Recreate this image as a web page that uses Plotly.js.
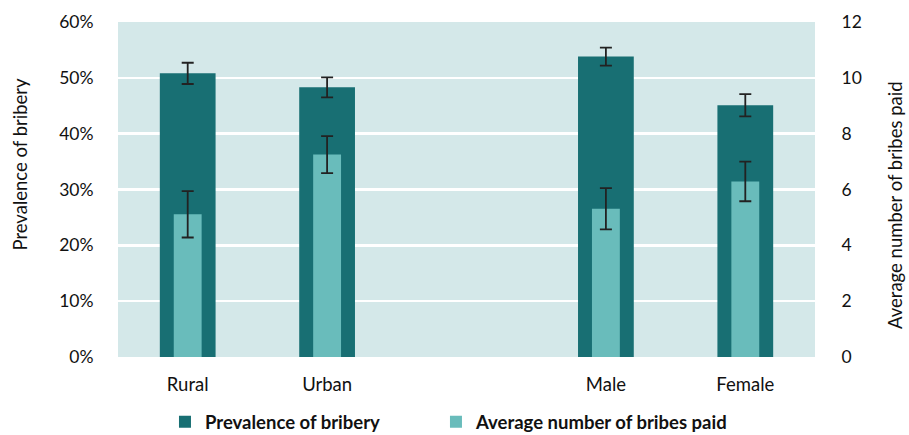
<!DOCTYPE html>
<html>
<head>
<meta charset="utf-8">
<script src="https://cdn.plot.ly/plotly-3.0.1.min.js"></script>
<style>html,body{margin:0;padding:0;background:#fff}#chart{width:909px;height:435px}</style>
</head>
<body>
<div id="chart"></div>
<script>
const categories = ["Rural", "Urban", " ", "Male", "Female"];
const prevalence = [50.8, 48.3, null, 53.8, 45.1];
const prevalenceErr = [1.9, 1.8, null, 1.6, 2.0];
const avgBribes = [5.11, 7.25, null, 5.31, 6.29];
const avgBribesErr = [0.83, 0.66, null, 0.74, 0.71];
const leftTicks = [0, 10, 20, 30, 40, 50, 60];
const rightTicks = [0, 2, 4, 6, 8, 10, 12];
const leftTitle = "Prevalence of bribery";
const rightTitle = "Average number of bribes paid";

const FONT = "Lato, 'Open Sans', sans-serif";

const traces = [
  {
    type: "bar", name: "Prevalence of bribery",
    x: categories, y: prevalence, yaxis: "y", width: 0.4, legend: "legend",
    marker: {color: "#186f73"},
    error_y: {type: "data", array: prevalenceErr, visible: true, color: "#222", thickness: 1.8, width: 6},
    hoverinfo: "skip"
  },
  {
    type: "bar", name: "Average number of bribes paid",
    x: categories, y: avgBribes, yaxis: "y2", width: 0.2, legend: "legend2",
    marker: {color: "#69bcbb"},
    error_y: {type: "data", array: avgBribesErr, visible: true, color: "#222", thickness: 1.8, width: 6},
    hoverinfo: "skip"
  }
];

const legendFont = {family: FONT, size: 18.5, color: "#111", weight: "bold"};

const layout = {
  width: 909, height: 435,
  margin: {l: 118, r: 94, t: 22, b: 78, autoexpand: false},
  paper_bgcolor: "#ffffff",
  plot_bgcolor: "#d4e8e9",
  font: {family: FONT, size: 17, color: "#111"},
  barmode: "overlay",
  showlegend: true,
  legend: {
    orientation: "h", x: 0.0674, xanchor: "left", y: -0.195, yanchor: "middle",
    font: legendFont
  },
  legend2: {
    orientation: "h", x: 0.4562, xanchor: "left", y: -0.195, yanchor: "middle",
    font: legendFont
  },
  xaxis: {
    type: "category", categoryorder: "array", categoryarray: categories,
    showgrid: false, zeroline: false, showline: false,
    ticks: "outside", ticklen: 11, tickcolor: "rgba(0,0,0,0)",
    tickfont: {family: FONT, size: 18.5, color: "#111"}
  },
  yaxis: {
    range: [0, 60], tickvals: leftTicks, ticktext: leftTicks.map(v => v + "%"),
    showgrid: true, gridcolor: "#ffffff", gridwidth: 2.5, zeroline: false, showline: false,
    ticks: "outside", ticklen: 20, tickcolor: "rgba(0,0,0,0)",
    tickfont: {family: FONT, size: 17.5, color: "#111"}
  },
  yaxis2: {
    overlaying: "y", side: "right",
    range: [0, 12], tickvals: rightTicks,
    showgrid: false, zeroline: false, showline: false,
    ticks: "outside", ticklen: 22, tickcolor: "rgba(0,0,0,0)",
    tickfont: {family: FONT, size: 17.5, color: "#111"}
  },
  annotations: [
    {text: leftTitle, xref: "paper", yref: "paper", x: -0.1406, y: 0.5746,
     xanchor: "center", yanchor: "middle", textangle: -90, showarrow: false,
     font: {family: FONT, size: 18.5, color: "#111"}},
    {text: rightTitle, xref: "paper", yref: "paper", x: 1.1148, y: 0.4537,
     xanchor: "center", yanchor: "middle", textangle: -90, showarrow: false,
     font: {family: FONT, size: 18.5, color: "#111"}}
  ]
};

Plotly.newPlot("chart", traces, layout, {displayModeBar: false, staticPlot: true});
</script>
</body>
</html>
